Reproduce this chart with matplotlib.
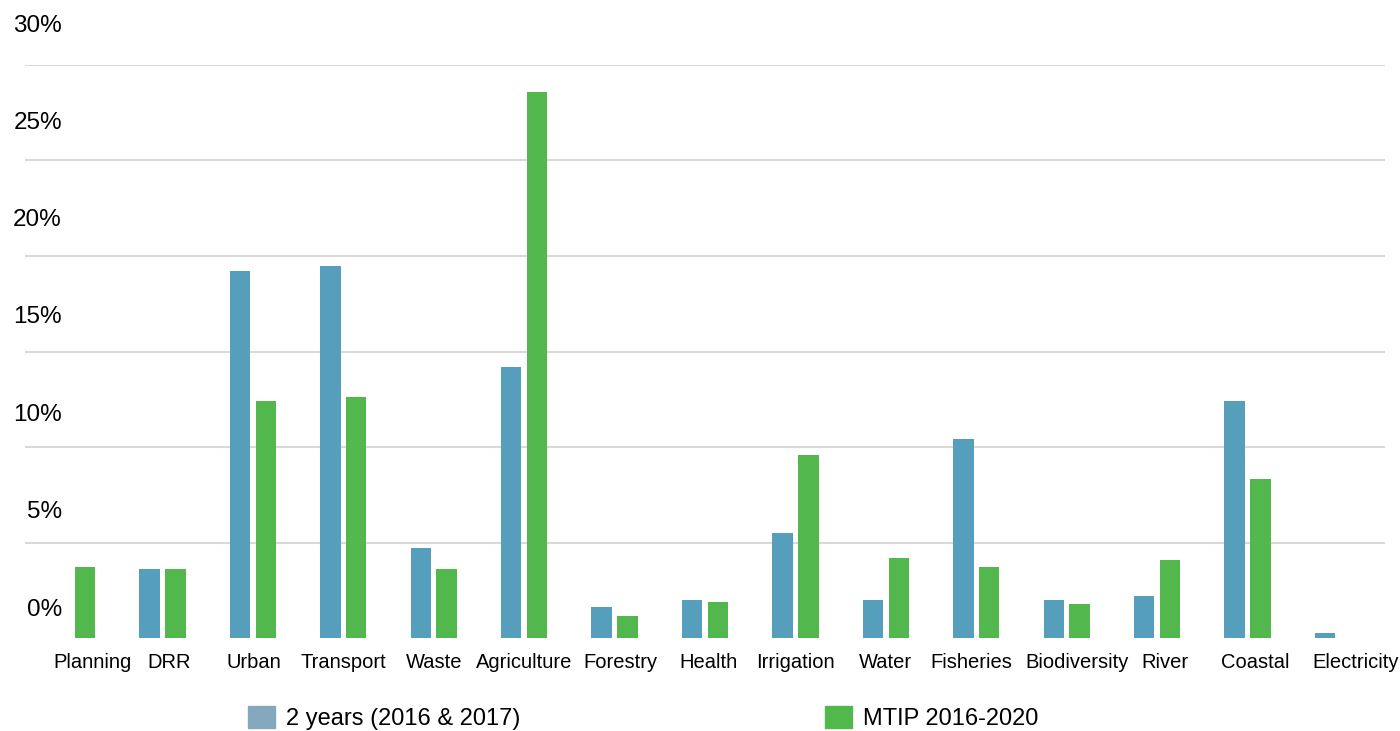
import matplotlib
matplotlib.use("Agg")
import matplotlib.pyplot as plt
from matplotlib.patches import Patch
import numpy as np

plt.rcParams['font.family'] = ['Liberation Sans', 'DejaVu Sans']

sectors = ['Planning', 'DRR', 'Urban', 'Transport', 'Waste', 'Agriculture',
           'Forestry', 'Health', 'Irrigation', 'Water', 'Fisheries',
           'Biodiversity', 'River', 'Coastal', 'Electricity']
two_years = [0.0, 3.6, 19.2, 19.5, 4.7, 14.2, 1.6, 2.0, 5.5, 2.0, 10.4, 2.0, 2.2, 12.4, 0.25]
mtip = [3.7, 3.6, 12.4, 12.6, 3.6, 28.6, 1.15, 1.9, 9.6, 4.2, 3.7, 1.8, 4.1, 8.3, 0.0]
y_ticks = [0, 5, 10, 15, 20, 25, 30]
y_tick_labels = ['0%', '5%', '10%', '15%', '20%', '25%', '30%']
series_names = ['2 years (2016 & 2017)', 'MTIP 2016-2020']

# small nudges so the category labels don't crowd each other
label_shift = [0.23, 0.07, 0.01, 0.0, 0.0, 0.0, 0.06, 0.04, 0.0, 0.0, -0.06, 0.11, 0.09, 0.09, 0.2]

blue = '#559fbd'
blue_key = '#84a9bf'
green = '#52b84e'

W, H = 1400, 731
fig = plt.figure(figsize=(14, 7.31), dpi=100)
ax = fig.add_axes([25 / W, 1 - 638 / H, (1385 - 25) / W, (638 - 65) / H])

x = np.arange(len(sectors))
w = 0.225
ax.bar(x - 0.143, two_years, width=w, color=blue, edgecolor='none', zorder=3)
ax.bar(x + 0.143, mtip, width=w, color=green, edgecolor='none', zorder=3)

ax.set_xlim(-0.52, len(sectors) - 0.48)
ax.set_ylim(0, 30)
ax.set_yticks(y_ticks)
ax.yaxis.grid(True, color='#d9d9d9', linewidth=1.5, zorder=0)
ax.yaxis.get_gridlines()[0].set_visible(False)
ax.tick_params(axis='y', length=0, labelleft=False)
ax.set_xticks([])
for s in ax.spines.values():
    s.set_visible(False)

for i, name in enumerate(sectors):
    ax.text(i + label_shift[i], -1.3, name, ha='center', va='center', fontsize=14.5)

# y labels sit above their gridlines, on their own little axes
lab_ax = fig.add_axes([62 / W, 1 - 607 / H, 0.001, (607 - 23) / H])
lab_ax.set_ylim(0, 30)
lab_ax.set_yticks(y_ticks)
lab_ax.set_yticklabels(y_tick_labels, fontsize=17.5)
lab_ax.tick_params(axis='y', length=0, pad=0)
lab_ax.set_xticks([])
for s in lab_ax.spines.values():
    s.set_visible(False)
lab_ax.patch.set_visible(False)

handles = [Patch(color=blue_key), Patch(color=green)]
fig.legend(handles, series_names, loc='center left', bbox_to_anchor=(248 / W, 1 - 718 / H),
           ncol=2, frameon=False, fontsize=17, handlelength=1.15, handleheight=1.1,
           handletextpad=0.47, columnspacing=12.9, borderpad=0, borderaxespad=0)

fig.savefig('out.png', dpi=100, facecolor='white')
